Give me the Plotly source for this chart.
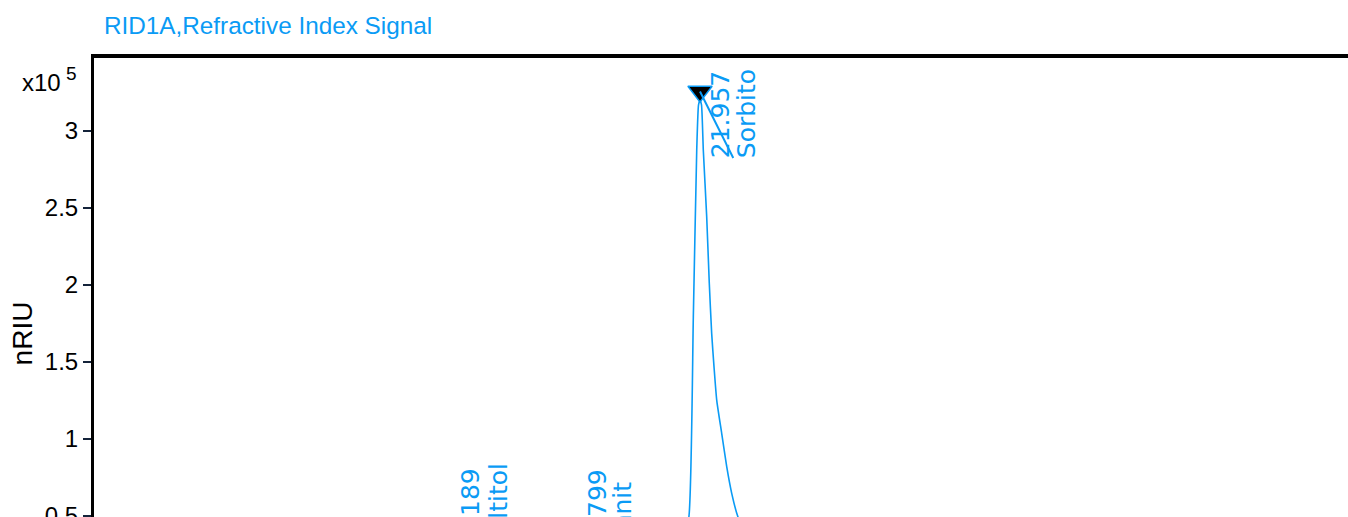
import plotly.graph_objects as go

# ---- data (signal in units of 1e5 nRIU, time in minutes) ----
time_min = [10.52, 12.0, 14.0, 16.5, 16.9, 17.189, 17.5, 18.0, 19.4, 19.799, 20.2, 21.0, 21.5,
            21.749, 21.831, 21.895, 21.929, 21.957, 21.985, 22.019, 22.083, 22.132, 22.177,
            22.221, 22.272, 22.366, 22.461, 22.555, 22.661, 22.9, 23.3, 24.0, 25.0, 27.0,
            30.0, 34.18]
signal_e5 = [0.0, 0.0, 0.01, 0.02, 0.20, 0.40, 0.15, 0.03, 0.18, 0.35, 0.12, 0.03, 0.05,
             0.50, 1.792, 2.877, 3.169, 3.20, 3.169, 2.877, 2.444, 2.011, 1.686,
             1.470, 1.253, 1.037, 0.820, 0.647, 0.506, 0.30, 0.16, 0.07, 0.03, 0.01,
             0.0, 0.0]

peak_times = [17.189, 19.799, 21.957]
peak_heights = [0.40, 0.35, 3.20]
peak_names = ["Maltitol", "Mannit", "Sorbito"]

marker_time = [21.957]
marker_level = [3.256]

y_ticks = [0.5, 1, 1.5, 2, 2.5, 3]
y_ticktext = ["0.5", "1", "1.5", "2", "2.5", "3"]

BLUE = "#0a9bf5"
W, H = 1348, 517
ML, MT = 94, 58
Y_RANGE = [0.4935, 3.474]
X_RANGE = [10.523, 34.183]
PX_PER_UNIT = (H - MT) / (Y_RANGE[1] - Y_RANGE[0])

fig = go.Figure()
fig.add_trace(go.Scatter(x=time_min, y=signal_e5, mode="lines",
                         line=dict(color=BLUE, width=1.6, shape="spline", smoothing=0.5),
                         hoverinfo="skip", showlegend=False))
fig.add_trace(go.Scatter(x=marker_time, y=marker_level, mode="markers",
                         marker=dict(symbol="triangle-down", size=21, color="black",
                                     line=dict(color=BLUE, width=1.5)),
                         showlegend=False, hoverinfo="skip", cliponaxis=False))

ann = []
label_font = dict(family="DejaVu Sans", size=25, color=BLUE)
num_gap = [-25, -19, -59]    # pixel offset of the time label start relative to the apex
name_gap = [-25, -29, -59]   # pixel offset of the name label start relative to the apex
num_dx = [8, -4, 5]          # horizontal pixel offset of the time label
name_dx = [36, 21, 31]       # horizontal pixel offset of the name label
for t, h, name, g1, g2, d1, d2 in zip(peak_times, peak_heights, peak_names,
                                      num_gap, name_gap, num_dx, name_dx):
    y_anchor = max(h, Y_RANGE[0] + 0.01)
    extra = (y_anchor - h) * PX_PER_UNIT
    ann.append(dict(x=t, y=y_anchor, xref="x", yref="y", text=f"{t:.3f}", textangle=-90,
                    showarrow=False, xanchor="left", yanchor="bottom", xshift=d1, yshift=g1 - extra,
                    font=label_font, borderpad=0))
    ann.append(dict(x=t, y=y_anchor, xref="x", yref="y", text=name, textangle=-90,
                    showarrow=False, xanchor="left", yanchor="bottom", xshift=d2, yshift=g2 - extra,
                    font=label_font, borderpad=0))

# leader line across the main peak label
ann.append(dict(x=marker_time[0], y=marker_level[0], xref="x", yref="y", text="",
                showarrow=True, arrowhead=0, arrowwidth=2, arrowcolor=BLUE,
                ax=34, ay=68, standoff=0, startstandoff=0))

# title
ann.append(dict(x=0, y=1, xref="paper", yref="paper", text="RID1A,Refractive Index Signal",
                showarrow=False, xanchor="left", yanchor="middle", xshift=8, yshift=33,
                font=dict(family="Liberation Sans, Arial, sans-serif", size=24.3, color=BLUE)))
# exponent label
ann.append(dict(x=0, y=1, xref="paper", yref="paper", text="x10",
                showarrow=False, xanchor="right", yanchor="middle", xshift=-31, yshift=-24,
                font=dict(family="Liberation Sans, Arial, sans-serif", size=24, color="black")))
ann.append(dict(x=0, y=1, xref="paper", yref="paper", text="5",
                showarrow=False, xanchor="right", yanchor="middle", xshift=-15, yshift=-15,
                font=dict(family="Liberation Sans, Arial, sans-serif", size=19, color="black")))
# y-axis title
ann.append(dict(x=0, y=0.40, xref="paper", yref="paper", text="nRIU", textangle=-90,
                showarrow=False, xanchor="center", yanchor="middle", xshift=-72,
                font=dict(family="Liberation Sans, Arial, sans-serif", size=28, color="black")))

fig.update_layout(
    width=W, height=H,
    margin=dict(l=ML, r=0, t=MT, b=0, pad=0, autoexpand=False),
    paper_bgcolor="white", plot_bgcolor="white",
    showlegend=False,
    annotations=ann,
    xaxis=dict(range=X_RANGE, side="top", showline=True, linewidth=4, linecolor="black",
               showticklabels=False, ticks="", showgrid=False, zeroline=False, automargin=False),
    yaxis=dict(range=Y_RANGE, showline=True, linewidth=3, linecolor="black",
               ticks="outside", ticklen=8, tickwidth=2, tickcolor="#14233a",
               tickvals=y_ticks, ticktext=y_ticktext, ticklabeloverflow="allow",
               tickfont=dict(family="Liberation Sans, Arial, sans-serif", size=24, color="black"),
               showgrid=False, zeroline=False, automargin=False),
)

fig.write_html("out.html")
